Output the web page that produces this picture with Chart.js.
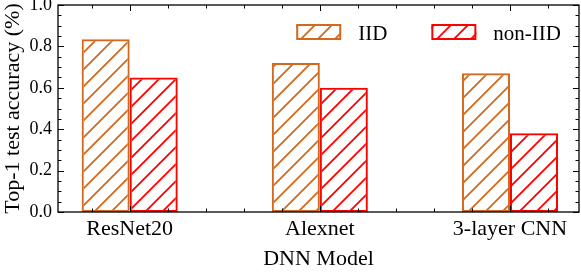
<!DOCTYPE html>
<html>
<head>
<meta charset="utf-8">
<title>Top-1 test accuracy</title>
<script src="https://cdn.jsdelivr.net/npm/chart.js@4.4.1/dist/chart.umd.min.js"></script>
<style>
  html, body { margin: 0; padding: 0; background: #fff; }
</style>
</head>
<body>
<canvas id="accChart" width="581" height="272"></canvas>
<script>
// valores
const modelos = ['ResNet20', 'Alexnet', '3-layer CNN'];
const iid = [0.835, 0.72, 0.67];
const nonIid = [0.65, 0.60, 0.38];
const yTicks = [0.0, 0.2, 0.4, 0.6, 0.8, 1.0];
const series = ['IID', 'non-IID'];

const corIid = '#d2691e';
const corNonIid = '#ff0000';

Chart.defaults.font.family = "'Liberation Serif', 'Times New Roman', serif";
Chart.defaults.color = '#000';

// hachura "/" como padrao de preenchimento
function hachura(ctx, cor) {
    const s = 17;
    const c = document.createElement('canvas');
    c.width = s;
    c.height = s;
    const g = c.getContext('2d');
    g.strokeStyle = cor;
    g.lineWidth = 1.8;
    g.beginPath();
    g.moveTo(0, s); g.lineTo(s, 0);
    g.moveTo(-s / 2, s / 2); g.lineTo(s / 2, -s / 2);
    g.moveTo(s / 2, s * 1.5); g.lineTo(s * 1.5, s / 2);
    g.stroke();
    return ctx.createPattern(c, 'repeat');
}

// moldura e ticks para dentro, nos quatro lados
const marcas = {
    id: 'marcas',
    afterDatasetsDraw(chart) {
        const { ctx, chartArea: a, scales: { x, y } } = chart;
        ctx.save();
        ctx.strokeStyle = '#000';
        ctx.lineWidth = 1;
        ctx.beginPath();
        for (let k = 0; k <= 20; k++) {
            const py = Math.round(y.getPixelForValue(k * 0.05)) + 0.5;
            const len = k % 4 === 0 ? 6 : 3.5;
            ctx.moveTo(a.left, py); ctx.lineTo(a.left + len, py);
            ctx.moveTo(a.right, py); ctx.lineTo(a.right - len, py);
        }
        for (let k = -1; k <= 11; k++) {
            const px = Math.round(x.getPixelForValue(k * 0.2)) + 0.5;
            const len = k % 5 === 0 ? 6 : 3.5;
            ctx.moveTo(px, a.bottom); ctx.lineTo(px, a.bottom - len);
            ctx.moveTo(px, a.top); ctx.lineTo(px, a.top + len);
        }
        ctx.stroke();
        ctx.lineWidth = 1.3;
        ctx.strokeRect(a.left, a.top, a.right - a.left, a.bottom - a.top);
        ctx.restore();
    }
};

// legenda dentro da area do grafico, canto superior direito
const legenda = {
    id: 'legenda',
    afterDraw(chart) {
        const { ctx, chartArea: a } = chart;
        ctx.save();
        ctx.font = "21px 'Liberation Serif'";
        ctx.textBaseline = 'alphabetic';
        let x = a.right - 18;
        for (let i = chart.data.datasets.length - 1; i >= 0; i--) {
            const ds = chart.data.datasets[i];
            const w = ctx.measureText(ds.label).width;
            const tx = x - w;
            const bx = tx - 17 - 45;
            ctx.fillStyle = ds.backgroundColor;
            ctx.fillRect(bx, a.top + 19, 45, 16);
            ctx.strokeStyle = ds.borderColor;
            ctx.lineWidth = 2;
            ctx.strokeRect(bx + 1, a.top + 20, 43, 14);
            ctx.fillStyle = '#000';
            ctx.fillText(ds.label, tx, a.top + 35);
            x = bx - 44;
        }
        ctx.restore();
    }
};

function criarGrafico() {
    const canvas = document.getElementById('accChart');
    const ctx = canvas.getContext('2d');

    const datasets = [iid, nonIid].map((vals, idx) => {
        const cor = [corIid, corNonIid][idx];
        return {
            label: series[idx],
            data: vals.map((v, i) => ({ x: i, y: v })),
            backgroundColor: hachura(ctx, cor),
            borderColor: cor,
            borderWidth: 2,
            borderSkipped: false,
            categoryPercentage: 0.505,
            barPercentage: 1
        };
    });

    new Chart(ctx, {
        type: 'bar',
        data: { datasets: datasets },
        options: {
            responsive: false,
            animation: false,
            layout: { padding: { top: 5, right: 2, left: 0, bottom: 0 } },
            plugins: {
                legend: { display: false },
                tooltip: { enabled: false }
            },
            scales: {
                x: {
                    type: 'linear',
                    offset: false,
                    min: -0.377,
                    max: 2.363,
                    afterBuildTicks: s => { s.ticks = modelos.map((m, i) => ({ value: i })); },
                    ticks: {
                        callback: (v, i) => modelos[i],
                        font: { size: 22 },
                        padding: 4,
                        maxRotation: 0,
                        autoSkip: false
                    },
                    grid: { display: false, drawTicks: false, offset: false },
                    border: { display: false },
                    title: { display: true, text: 'DNN Model', font: { size: 22 }, padding: 0 },
                    afterFit: s => { s.height = 60; s.paddingLeft = 0; s.paddingRight = 0; }
                },
                y: {
                    min: 0,
                    max: 1,
                    afterBuildTicks: s => { s.ticks = yTicks.map(v => ({ value: v })); },
                    ticks: {
                        callback: v => v.toFixed(1),
                        font: { size: 18 },
                        padding: 6
                    },
                    grid: { display: false, drawTicks: false },
                    border: { display: false },
                    title: { display: true, text: 'Top-1 test accuracy (%)', font: { size: 22 }, padding: 0 },
                    afterFit: s => { s.width = 58; s.paddingTop = 0; s.paddingBottom = 0; }
                }
            }
        },
        plugins: [marcas, legenda]
    });
}

window.onload = criarGrafico;
</script>
</body>
</html>
